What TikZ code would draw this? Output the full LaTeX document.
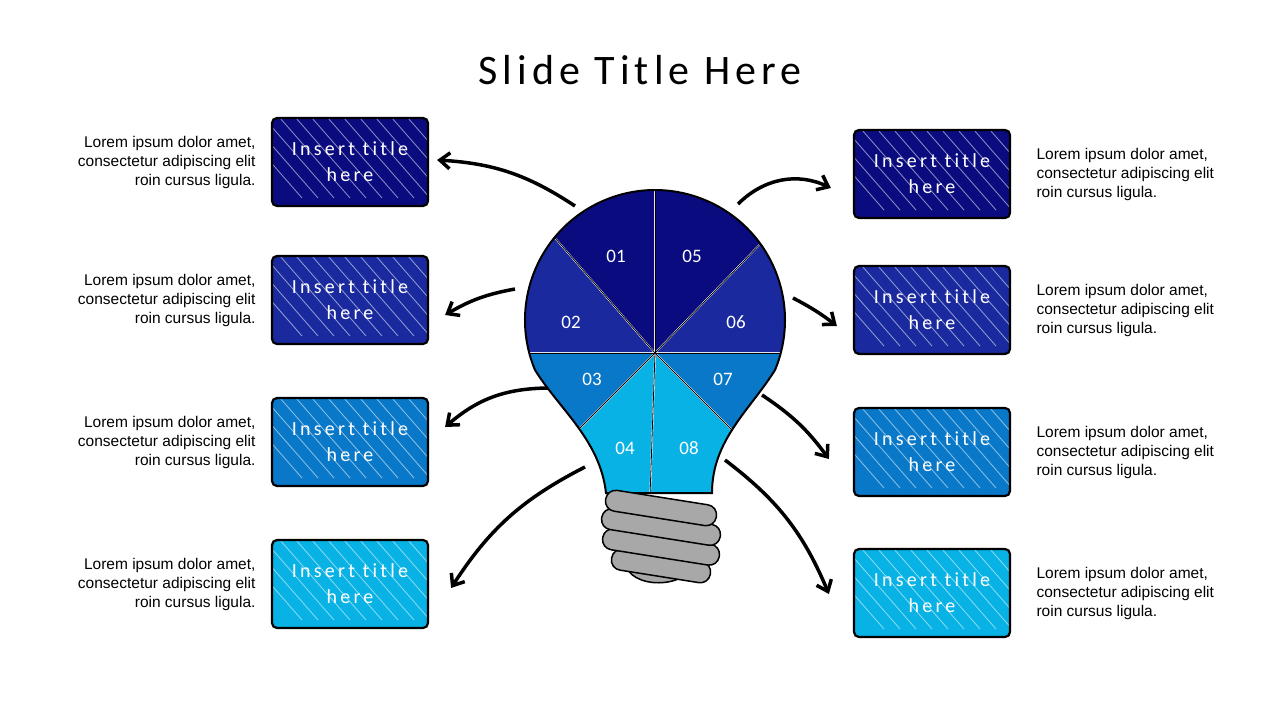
\documentclass[tikz,border=0pt]{standalone}
\usepackage{fontspec}
\setmainfont{Liberation Sans}
\newfontfamily\titlefont[LetterSpace=12]{Carlito}
\newfontfamily\boxfont[LetterSpace=16,Ligatures={NoCommon}]{Carlito}
\newfontfamily\numfont{Carlito}
\usetikzlibrary{arrows.meta}
\definecolor{navy}{HTML}{0B0B80}
\definecolor{royal}{HTML}{1A2A9E}
\definecolor{ocean}{HTML}{0A78C8}
\definecolor{sky}{HTML}{08B2E4}
\definecolor{socket}{HTML}{A8A8A8}
\tikzset{
  titlebox/.style={draw=black, line width=2.2pt, rounded corners=5pt,
    minimum width=156pt, minimum height=88pt, align=center,
    text=white, font=\boxfont\fontsize{20}{26}\selectfont,
    path picture={\foreach \k in {0,...,11}{
      \draw[white, opacity=.55, line width=.8pt]
        ([xshift=\k*16pt-40pt]path picture bounding box.north west) -- ++(70pt,-80pt);}}},
  lorem/.style={font=\fontsize{15.5}{19}\selectfont},
  bulbarrow/.style={line width=3.5pt, -{Straight Barb[length=10pt,width=16pt]}},
  wedge/.style={draw=white, line width=1.5pt},
  ring/.style={draw=black, line width=1.5pt, fill=socket, rounded corners=10pt,
    minimum height=21pt, rotate=-9}
}
\begin{document}
\begin{tikzpicture}[x=1pt,y=-1pt]
  \useasboundingbox (0,0) rectangle (1280,720);
  % Title
  \node[font=\titlefont\fontsize{42}{50}\selectfont] (title) at (640,70) {Slide Title Here};
  % Bulb
  \def\bulbpath{(606,493) .. controls (600,440) and (560,410) .. (535,370)
    arc[start angle=157.4, end angle=382.6, radius=130]
    .. controls (750,410) and (712,440) .. (712,493) -- cycle}
  \coordinate (O) at (655,353);
  \begin{scope}
    \clip \bulbpath;
    \foreach \a/\b/\c in {180/229/royal, 229/270/navy, 270/314/navy, 314/360/royal,
                          0/45/ocean, 45/92/sky, 92/135/sky, 135/180/ocean}
      \fill[\c, wedge] (O) -- ++(\a:300) arc[start angle=\a, end angle=\b, radius=300] -- cycle;
    \foreach \a in {0,45,92,135,180,229,270,314}
      \draw[black, line width=.8pt] (O) -- ++(\a:300);
  \end{scope}
  \draw[line width=2pt] \bulbpath;
  \foreach \t/\x/\y in {01/616/256, 02/571/322, 03/592/379, 04/625/448,
                        05/692/256, 06/736/322, 07/723/379, 08/689/448}
    \node[text=white, font=\numfont\fontsize{19}{20}\selectfont] (n\t) at (\x,\y) {\t};
  % Socket
  \fill[socket, draw=black, line width=1.5pt] (625,562) .. controls (628,590) and (690,590) .. (695,560) -- cycle;
  \foreach \y/\w in {566/100, 547/118, 527/120, 508/112}
    \node[ring, minimum width=\w pt] (r\y) at (661,\y) {};
  % Left boxes
  \foreach \i/\y/\c in {1/162/navy, 2/300/royal, 3/442/ocean, 4/584/sky} {
    \node[titlebox, fill=\c] (bl\i) at (350,\y) {Insert title\\here};
    \node[lorem, anchor=east, align=right] (tl\i) at (259,\y) {Lorem ipsum dolor amet,\\consectetur adipiscing elit\\roin cursus ligula.};
  }
  % Right boxes
  \foreach \i/\y/\c in {1/174/navy, 2/310/royal, 3/452/ocean, 4/593/sky} {
    \node[titlebox, fill=\c] (br\i) at (932,\y) {Insert title\\here};
    \node[lorem, anchor=west, align=left] (tr\i) at (1033,\y) {Lorem ipsum dolor amet,\\consectetur adipiscing elit\\roin cursus ligula.};
  }
  % Arrows
  \coordinate (al1) at (575,206); \coordinate (al2) at (515,289);
  \coordinate (al3) at (548,388); \coordinate (al4) at (585,467);
  \coordinate (ar1) at (738,204); \coordinate (ar2) at (793,298);
  \coordinate (ar3) at (762,395); \coordinate (ar4) at (725,460);
  \draw[bulbarrow] (al1) to[bend right=15] ([xshift=8pt,yshift=2pt]bl1.east);
  \draw[bulbarrow] (al2) to[bend right=10] ([xshift=16pt,yshift=-15pt]bl2.east);
  \draw[bulbarrow] (al3) to[bend right=20] ([xshift=16pt,yshift=15pt]bl3.east);
  \draw[bulbarrow] (al4) to[bend right=15] ([xshift=22pt,yshift=-4pt]bl4.east);
  \draw[bulbarrow] (ar1) to[bend left=35] ([xshift=-22pt,yshift=-14pt]br1.west);
  \draw[bulbarrow] (ar2) to[bend left=5] ([xshift=-16pt,yshift=-16pt]br2.west);
  \draw[bulbarrow] (ar3) to[bend left=10] ([xshift=-24pt,yshift=-7pt]br3.west);
  \draw[bulbarrow] (ar4) to[bend left=15] ([xshift=-24pt,yshift=-1pt]br4.west);
\end{tikzpicture}
\end{document}
